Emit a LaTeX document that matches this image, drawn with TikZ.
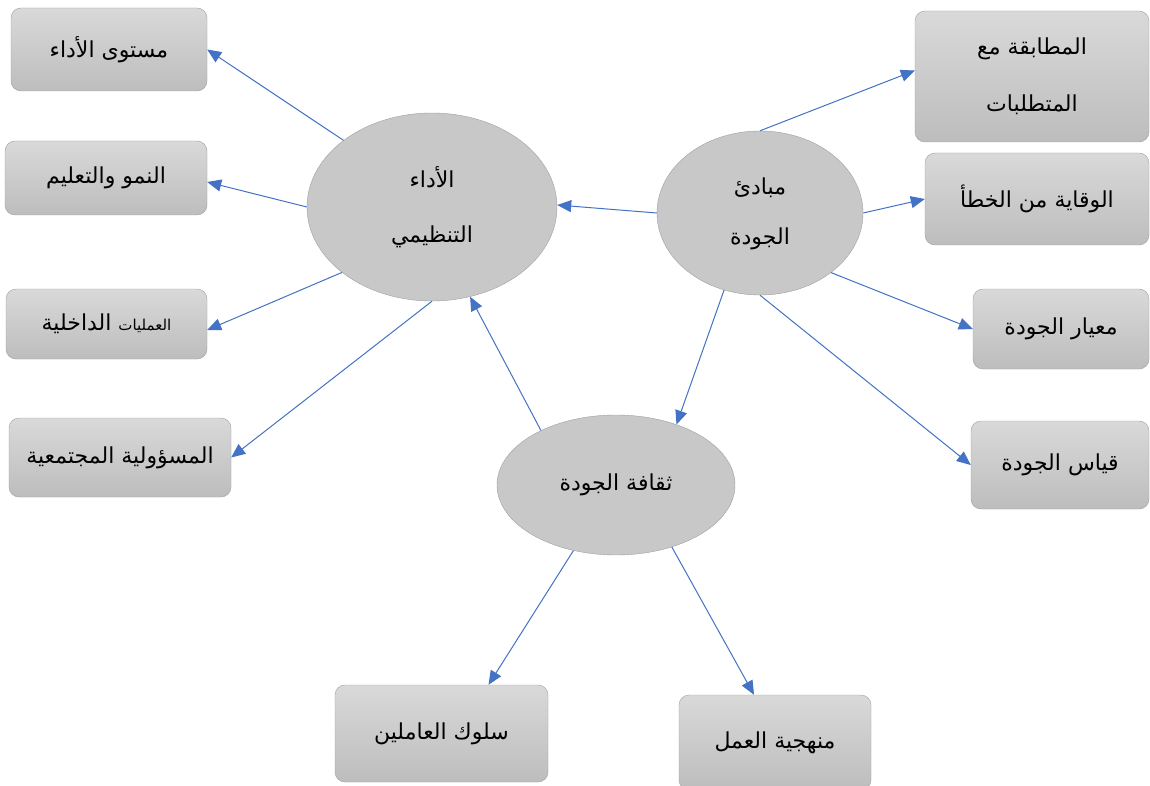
\documentclass[tikz,border=0pt]{standalone}
\usepackage{fontspec}
\newfontfamily\arabicfont[Script=Arabic]{DejaVu Sans}
\TeXXeTstate=1
\usetikzlibrary{shapes.geometric,arrows.meta}
\definecolor{arrowblue}{HTML}{4472C4}
\definecolor{boxedge}{HTML}{A0A0A0}
\definecolor{boxtop}{HTML}{D9D9D9}
\definecolor{boxbot}{HTML}{BDBDBD}
\definecolor{ellfill}{HTML}{C8C8C8}
\newcommand{\artext}[1]{\beginR #1\endR}
\tikzset{
  box/.style={rectangle, rounded corners=10pt, draw=boxedge, top color=boxtop, bottom color=boxbot,
    font=\arabicfont\fontsize{22}{26}\selectfont, inner sep=0pt, align=center},
  ell/.style={ellipse, draw=boxedge, fill=ellfill, inner sep=0pt,
    font=\arabicfont\fontsize{22}{26}\selectfont, align=center},
  conn/.style={draw=arrowblue, line width=1pt, -{Triangle[length=14pt,width=12pt]}}
}
\begin{document}
\begin{tikzpicture}[x=1pt,y=-1pt]
\fill[white] (0,0) rectangle (1150,786);
\useasboundingbox (0,0) rectangle (1150,786);
% left boxes
\node[box, minimum width=196pt, minimum height=83pt] (b1) at (109,49.5) {\artext{مستوى الأداء}};
\node[box, minimum width=202pt, minimum height=74pt] (b2) at (106,178) {\artext{النمو والتعليم}};
\node[box, minimum width=201pt, minimum height=70pt] (b3) at (106.5,324) {\artext{الداخلية} {\fontsize{15}{18}\selectfont\artext{العمليات}}};
\node[box, minimum width=222pt, minimum height=79pt] (b4) at (120,457.5) {\artext{المسؤولية المجتمعية}};
% right boxes
\node[box, minimum width=234pt, minimum height=131pt] (b5) at (1032,76.5) {\mbox{}\\[-10pt]\artext{المطابقة مع}\\[31pt]\artext{المتطلبات}};
\node[box, minimum width=224pt, minimum height=92pt] (b6) at (1037,199) {\artext{الوقاية من الخطأ}};
\node[box, minimum width=176pt, minimum height=80pt] (b7) at (1061,329) {\artext{معيار الجودة}};
\node[box, minimum width=178pt, minimum height=88pt] (b8) at (1060,465) {\artext{قياس الجودة}};
% bottom boxes
\node[box, minimum width=213pt, minimum height=97pt] (b9) at (441.5,733.5) {\artext{سلوك العاملين}};
\node[box, minimum width=192pt, minimum height=95pt] (b10) at (775,742.5) {\artext{منهجية العمل}};
% ellipses
\node[ell, minimum width=250pt, minimum height=188pt] (perf) at (432,207) {\artext{الأداء}\\[29pt]\artext{التنظيمي}};
\node[ell, minimum width=206pt, minimum height=164pt] (mab) at (760,213) {\mbox{}\\[-8pt]\artext{مبادئ}\\[24pt]\artext{الجودة}};
\node[ell, minimum width=238pt, minimum height=140pt] (thaq) at (616,485) {\artext{ثقافة الجودة}};
% connectors
\draw[conn] (perf.143) -- (b1.east);
\draw[conn] (perf.west) -- ([yshift=-4pt]b2.east);
\draw[conn] (perf.216) -- ([yshift=-6pt]b3.east);
\draw[conn] (perf.south) -- (b4.east);
\draw[conn] (mab.west) -- ([yshift=2pt]perf.east);
\draw[conn] (thaq.144) -- (perf.293);
\draw[conn] (mab.north) -- ([yshift=6pt]b5.west);
\draw[conn] (mab.east) -- (b6.west);
\draw[conn] (mab.320) -- (b7.west);
\draw[conn] (mab.south) -- (b8.west);
\draw[conn] (mab.245) -- (thaq.45);
\draw[conn] (thaq.237) -- ([xshift=47pt]b9.north);
\draw[conn] (thaq.312) -- ([xshift=-21pt]b10.north);
\end{tikzpicture}
\end{document}
